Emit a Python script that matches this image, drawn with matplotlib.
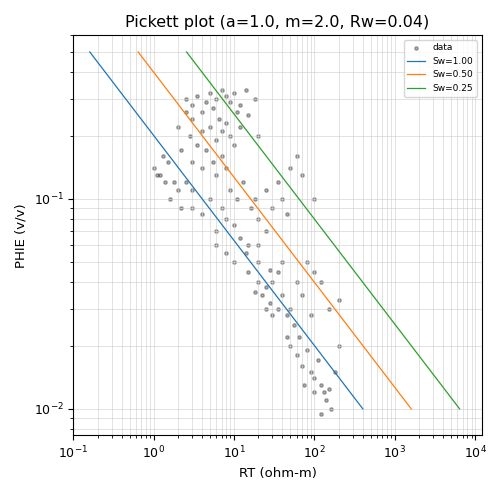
import numpy as np
import matplotlib
matplotlib.use('agg')
import matplotlib.pyplot as plt

# Archie parameters
a, m, n, rw = 1.0, 2.0, 2.0, 0.04
sw_values = [1.0, 0.5, 0.25]
sw_colors = ['#1f77b4', '#ff7f0e', '#2ca02c']
phi_line = np.array([0.5, 0.01])

# scatter points (RT, PHIE)
rt = [2.5, 3, 3.5, 4, 4.5, 5, 5.5, 6, 7, 8, 9, 10, 12, 6.5, 5, 4, 3, 2.8, 3.5, 4.5,
      6, 7, 8, 9, 10, 12, 15, 5.5, 7, 8, 6, 4, 3, 2.2, 2, 2.5, 18, 14, 11, 20,
      1, 1.2, 1.5, 1.3, 1.8, 2, 1.6, 2.5, 1.1, 1.4, 3, 2.2,
      3, 4, 5, 6, 7, 8, 10, 12, 15, 9, 11, 13, 16, 20, 25, 18, 14, 20, 6, 8,
      10, 30, 40, 35, 50, 60, 45, 25, 70, 100,
      15, 20, 22, 25, 28, 30, 35, 40, 45, 50, 55, 30, 25, 20, 35, 60, 70, 80,
      100, 120, 150, 200, 40, 18, 28, 65, 90,
      50, 60, 70, 80, 90, 100, 110, 120, 130, 140, 150, 160, 120, 100, 180, 200, 45, 75]
phie = [0.30, 0.28, 0.31, 0.26, 0.29, 0.32, 0.27, 0.30, 0.33, 0.31, 0.29, 0.32, 0.28, 0.24, 0.22, 0.21, 0.24, 0.20, 0.18, 0.17,
        0.19, 0.21, 0.23, 0.20, 0.18, 0.22, 0.25, 0.15, 0.16, 0.14, 0.13, 0.14, 0.15, 0.17, 0.22, 0.26, 0.30, 0.33, 0.26, 0.20,
        0.14, 0.13, 0.15, 0.16, 0.12, 0.11, 0.10, 0.12, 0.13, 0.12, 0.11, 0.09,
        0.09, 0.085, 0.10, 0.07, 0.09, 0.08, 0.075, 0.065, 0.06, 0.11, 0.10, 0.12, 0.09, 0.08, 0.07, 0.10, 0.055, 0.06, 0.06, 0.055,
        0.05, 0.09, 0.10, 0.12, 0.14, 0.16, 0.085, 0.11, 0.13, 0.10,
        0.045, 0.04, 0.035, 0.038, 0.032, 0.04, 0.03, 0.035, 0.028, 0.03, 0.025, 0.028, 0.03, 0.05, 0.045, 0.04, 0.035, 0.05,
        0.045, 0.04, 0.03, 0.033, 0.05, 0.036, 0.046, 0.022, 0.028,
        0.02, 0.018, 0.016, 0.019, 0.015, 0.014, 0.017, 0.013, 0.012, 0.011, 0.0125, 0.010, 0.0095, 0.012, 0.015, 0.020, 0.022, 0.013]

fig, ax = plt.subplots(figsize=(5.02, 4.95), dpi=100)
ax.scatter(rt, phie, s=6, color='black', alpha=0.3, label='data')
for sw, c in zip(sw_values, sw_colors):
    rt_line = a * rw / (phi_line ** m * sw ** n)
    ax.plot(rt_line, phi_line, color=c, lw=0.9, label=f'Sw={sw:.2f}')

ax.set_xscale('log')
ax.set_yscale('log')
ax.set_xlim(0.1, 1.2e4)
ax.set_ylim(0.0075, 0.6)
ax.grid(True, which='both', color='#cccccc', lw=0.5, alpha=0.8)
ax.tick_params(labelsize=9)
ax.set_xlabel('RT (ohm-m)', fontsize=9.5)
ax.set_ylabel('PHIE (v/v)', fontsize=9.5)
ax.set_title('Pickett plot (a=1.0, m=2.0, Rw=0.04)', fontsize=11.5)
ax.legend(loc='upper right', fontsize=6.5)
fig.tight_layout()
fig.savefig('out.png')
